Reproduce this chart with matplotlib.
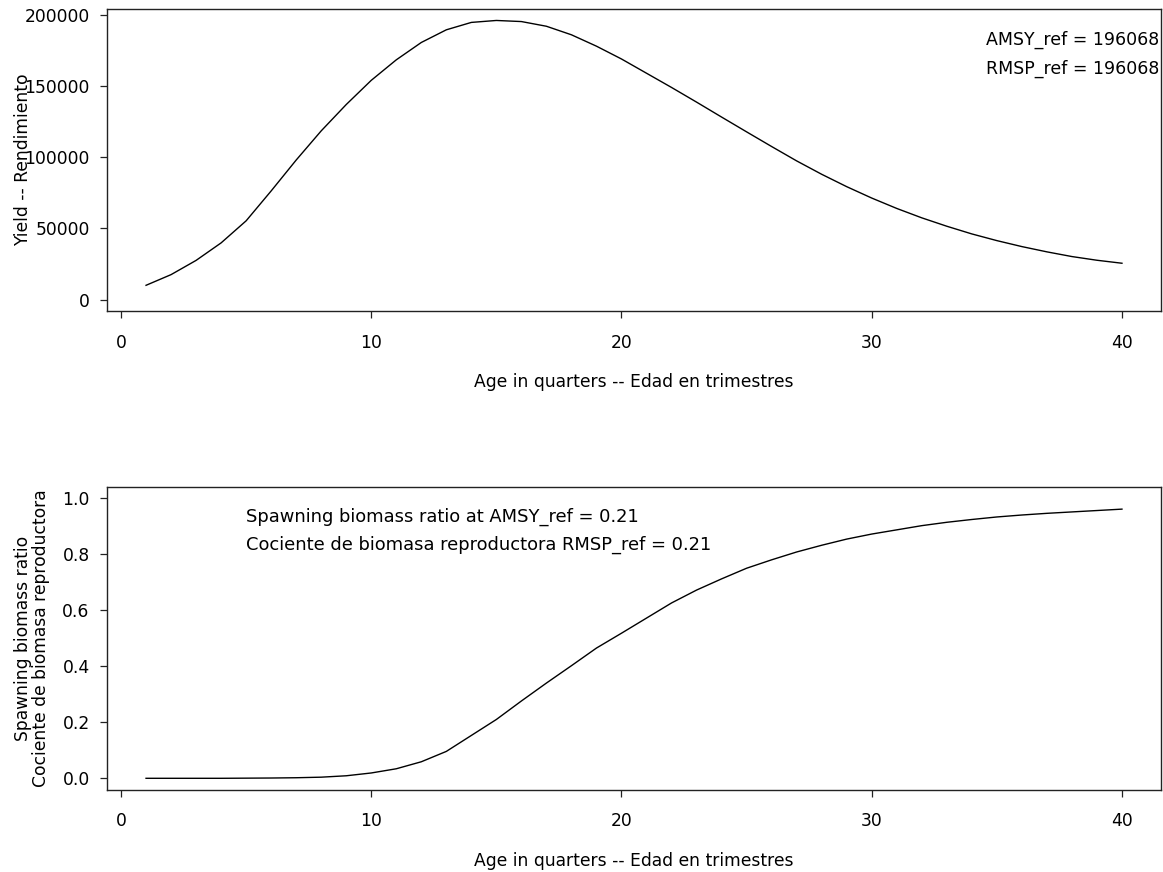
import matplotlib
matplotlib.use("Agg")
import matplotlib.pyplot as plt

plt.rcParams['font.family'] = ['DejaVu Sans']

# ---- data ----
age = list(range(1, 41))
yield_vals = [10000, 17500, 27500, 39800, 55300, 76300, 98000, 118500, 137000, 154000,
              168400, 180600, 189500, 194700, 196068, 195300, 192000, 186000, 178000, 169000,
              159000, 149000, 138700, 128200, 117800, 107500, 97400, 88000, 79300, 71300,
              64000, 57400, 51500, 46100, 41400, 37200, 33500, 30200, 27600, 25500]
sbr_vals = [0.0, 0.0, 0.0, 0.0, 0.0005, 0.001, 0.002, 0.004, 0.009, 0.019,
            0.034, 0.059, 0.096, 0.153, 0.21, 0.276, 0.34, 0.402, 0.465, 0.518,
            0.572, 0.626, 0.672, 0.712, 0.75, 0.78, 0.808, 0.832, 0.854, 0.872,
            0.887, 0.902, 0.914, 0.924, 0.933, 0.940, 0.946, 0.951, 0.956, 0.961]
x_ticks = [0, 10, 20, 30, 40]
y1_ticks = [0, 50000, 100000, 150000, 200000]
y2_ticks = [0.0, 0.2, 0.4, 0.6, 0.8, 1.0]
amsy = 196068
sbr_at_amsy = 0.21

W, H = 1163, 872
fig = plt.figure(figsize=(W / 100, H / 100), dpi=100)

def rect(l, r, t, b):
    return [l / W, 1 - b / H, (r - l) / W, (b - t) / H]

def fy(py):
    return 1 - py / H

FS = 12.3

def style(ax):
    for s in ax.spines.values():
        s.set_linewidth(1.0)
        s.set_color('#222222')
    ax.tick_params(direction='out', length=5, width=0.9, labelsize=FS, color='#222222')
    ax.tick_params(axis='x', pad=11.5)
    ax.tick_params(axis='y', pad=7.5)

# top panel
ax1 = fig.add_axes(rect(107, 1161, 9.3, 310.7))
ax1.plot(age, yield_vals, color='black', lw=1.0)
ymax = amsy
ax1.set_xlim(1 - 0.04 * 39, 40 + 0.04 * 39)
ax1.set_ylim(-0.04 * ymax, ymax * 1.04)
ax1.set_xticks(x_ticks)
ax1.set_yticks(y1_ticks)
ax1.set_yticklabels([str(v) for v in y1_ticks])
style(ax1)
fig.text(1159 / W, fy(45), f"AMSY_ref = {amsy}", ha='right', va='baseline', fontsize=12.5)
fig.text(1159 / W, fy(73.3), f"RMSP_ref = {amsy}", ha='right', va='baseline', fontsize=12.5)

# bottom panel
ax2 = fig.add_axes(rect(107, 1161, 487, 789.5))
ax2.plot(age, sbr_vals, color='black', lw=1.0)
ax2.set_xlim(1 - 0.04 * 39, 40 + 0.04 * 39)
ax2.set_ylim(-0.04, 1.04)
ax2.set_xticks(x_ticks)
ax2.set_yticks(y2_ticks)
ax2.set_yticklabels([f"{v:.1f}" for v in y2_ticks])
style(ax2)
fig.text(246 / W, fy(522), f"Spawning biomass ratio at AMSY_ref = {sbr_at_amsy}", ha='left', va='baseline', fontsize=12.9)
fig.text(246 / W, fy(550), f"Cociente de biomasa reproductora RMSP_ref = {sbr_at_amsy}", ha='left', va='baseline', fontsize=12.9)

# axis labels
xlab = "Age in quarters -- Edad en trimestres"
fig.text(634 / W, fy(387), xlab, ha='center', va='baseline', fontsize=FS)
fig.text(634 / W, fy(865.8), xlab, ha='center', va='baseline', fontsize=FS)
fig.text(23 / W, fy(160), "Yield -- Rendimiento", rotation=90, ha='center', va='center', fontsize=FS)
fig.text(32.5 / W, fy(638), "Spawning biomass ratio\nCociente de biomasa reproductora",
         rotation=90, ha='center', va='center', fontsize=FS, linespacing=1.0, multialignment='center')

fig.savefig("out.png", dpi=100, facecolor='white')
